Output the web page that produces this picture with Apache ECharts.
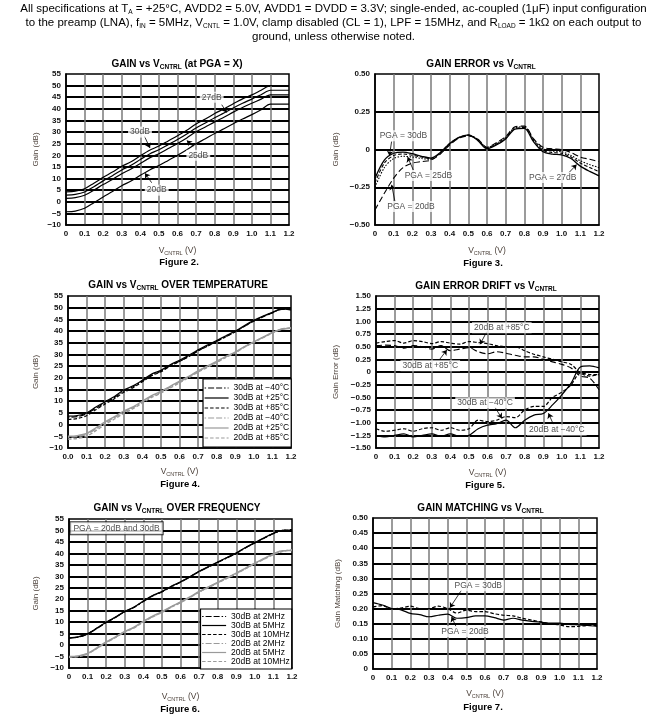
<!DOCTYPE html>
<html><head><meta charset="utf-8">
<script src="https://cdn.jsdelivr.net/npm/echarts@6/dist/echarts.min.js"></script>
<style>html,body{margin:0;padding:0;background:#fff}#c{width:667px;height:721px}</style>
</head><body><div id="c"></div>
<script>
// ---------- DATA ----------
const vcntrl = [0,0.05,0.1,0.15,0.2,0.25,0.3,0.35,0.4,0.45,0.5,0.55,0.6,0.65,0.7,0.75,0.8,0.85,0.9,0.95,1.0,1.05,1.1,1.15,1.2];

// Figure 2: Gain vs VCNTRL (at PGA = X)
const fig2_pga30 = [4.3,4.6,5.6,8.0,10.5,12.8,15.3,17.2,19.8,22.2,24.0,26.2,28.4,30.8,33.5,35.6,38.0,40.0,42.2,44.3,46.0,48.0,50.0,50.0,50.0];
const fig2_pga27 = [2.9,3.2,4.2,6.5,9.0,11.2,13.7,15.7,18.2,20.6,22.4,24.6,26.8,29.2,31.8,33.9,36.2,38.2,40.4,42.4,44.2,46.1,48.0,48.0,48.0];
const fig2_pga25 = [1.5,1.8,2.8,5.0,7.4,9.6,12.1,14.1,16.5,18.9,20.7,22.9,25.1,27.5,30.1,32.2,34.4,36.4,38.6,40.6,42.4,44.2,46.0,46.0,46.0];
const fig2_pga20 = [-4.3,-4.0,-2.8,-0.4,2.1,4.4,6.9,8.9,11.4,13.7,15.6,17.8,20.0,22.4,25.0,27.1,29.4,31.4,33.6,35.6,37.5,39.6,42.0,42.0,42.0];
const fig2_labels = ['27dB','30dB','25dB','20dB'];
const fig2_labelAt = [[0.784,45],[0.398,30],[0.712,20],[0.488,5]];
const fig2_arrowFrom = [[0.838,41.8],[0.421,28.4],[0.685,23.8],[0.461,8.2]];
const fig2_arrowTo = [[0.865,38.4],[0.452,23.1],[0.650,26.4],[0.425,12.3]];

// Figure 3: Gain error vs VCNTRL
const fig3_pga30 = [-0.19,-0.07,-0.025,-0.017,-0.028,-0.045,-0.057,-0.02,0.04,0.08,0.097,0.06,0.005,0.03,0.07,0.135,0.14,0.05,-0.015,-0.03,-0.035,-0.06,-0.11,-0.145,-0.175];
const fig3_pga27 = [-0.22,-0.09,-0.04,-0.03,-0.038,-0.05,-0.06,-0.02,0.04,0.08,0.095,0.065,0.01,0.035,0.075,0.14,0.145,0.06,-0.005,-0.02,-0.025,-0.05,-0.09,-0.12,-0.146];
const fig3_pga25 = [-0.25,-0.12,-0.06,-0.045,-0.05,-0.06,-0.065,-0.025,0.035,0.078,0.093,0.068,0.012,0.04,0.08,0.145,0.15,0.065,0.005,-0.01,-0.015,-0.04,-0.075,-0.10,-0.12];
const fig3_pga20 = [-0.40,-0.29,-0.19,-0.12,-0.09,-0.08,-0.07,-0.03,0.03,0.075,0.09,0.07,0.015,0.045,0.085,0.15,0.155,0.07,0.015,0.005,0.0,-0.02,-0.05,-0.065,-0.08];
const fig3_labels = ['PGA = 30dB','PGA = 25dB','PGA = 20dB','PGA = 27dB'];
const fig3_labelAt = [[0.152,0.091],[0.286,-0.172],[0.193,-0.378],[0.952,-0.186]];
const fig3_arrowFrom = [[0.089,0.053],[0.205,-0.135],[0.107,-0.345],[1.036,-0.157]];
const fig3_arrowTo = [[0.077,-0.042],[0.175,-0.05],[0.089,-0.234],[1.08,-0.10]];

// Figure 4: Gain vs VCNTRL over temperature
const fig4_30_m40 = [3.2,3.4,4.6,7.0,9.4,11.6,14.3,16.2,18.6,21.2,22.8,25.2,27.1,29.2,31.6,33.6,35.6,37.6,39.7,42.1,44.3,46.1,47.8,49.3,49.2];
const fig4_30_p25 = [3.6,3.9,5.0,7.5,9.8,12.0,14.8,16.6,19.0,21.6,23.2,25.6,27.5,29.6,32.0,34.0,36.0,38.0,40.0,42.4,44.6,46.4,48.0,49.5,49.1];
const fig4_30_p85 = [2.2,2.6,3.8,6.4,8.8,11.1,13.8,15.8,18.3,20.9,22.6,25.0,27.0,29.1,31.5,33.5,35.6,37.6,39.7,42.1,44.3,46.2,47.9,49.4,49.3];
const fig4_20_m40 = [-5.4,-5.1,-4.2,-1.8,0.8,3.0,5.4,7.3,9.7,12.1,13.9,16.1,18.3,20.4,22.8,24.8,26.8,29.0,30.9,33.3,35.3,37.3,39.3,40.9,41.3];
const fig4_20_p25 = [-5.0,-4.7,-3.8,-1.4,1.2,3.4,5.8,7.6,10.0,12.4,14.2,16.4,18.6,20.6,23.0,25.0,27.0,29.2,31.0,33.4,35.4,37.4,39.4,40.8,41.2];
const fig4_20_p85 = [-6.2,-5.9,-5.0,-2.6,0.1,2.4,4.8,6.8,9.2,11.6,13.5,15.7,17.9,20.1,22.5,24.5,26.6,28.8,30.7,33.1,35.2,37.2,39.2,40.8,41.3];
const fig4_names = ['30dB at \u221240\u00B0C','30dB at +25\u00B0C','30dB at +85\u00B0C','20dB at \u221240\u00B0C','20dB at +25\u00B0C','20dB at +85\u00B0C'];

// Figure 5: Gain error drift vs VCNTRL
const fig5_20_p85 = [0.57,0.60,0.62,0.57,0.62,0.60,0.56,0.60,0.57,0.55,0.60,0.58,0.56,0.52,0.50,0.50,0.42,0.35,0.30,0.25,0.20,0.15,-0.02,-0.08,-0.05];
const fig5_30_p85 = [0.52,0.53,0.52,0.47,0.52,0.50,0.45,0.52,0.42,0.45,0.48,0.40,0.36,0.40,0.37,0.33,0.30,0.30,0.25,0.20,0.15,0.08,-0.08,-0.12,-0.35];
const fig5_30_m40 = [-1.12,-1.17,-1.15,-1.12,-1.17,-1.12,-1.10,-1.15,-1.10,-1.15,-1.12,-0.95,-0.98,-0.95,-0.88,-0.90,-0.75,-0.68,-0.68,-0.50,-0.40,-0.25,-0.02,-0.05,-0.05];
const fig5_20_m40 = [-1.25,-1.28,-1.25,-1.22,-1.28,-1.25,-1.22,-1.27,-1.22,-1.27,-1.25,-1.12,-1.05,-1.02,-0.95,-1.10,-0.95,-0.85,-0.82,-0.65,-0.45,-0.22,0.10,0.12,0.08];
const fig5_labels = ['20dB at +85\u00B0C','30dB at +85\u00B0C','30dB at \u221240\u00B0C','20dB at \u221240\u00B0C'];
const fig5_labelAt = [[0.677,0.875],[0.292,0.125],[0.587,-0.605],[0.973,-1.145]];
const fig5_arrowFrom = [[0.596,0.795],[0.336,0.217],[0.641,-0.70],[0.954,-1.03]];
const fig5_arrowTo = [[0.56,0.547],[0.381,0.434],[0.677,-0.915],[0.928,-0.815]];

// Figure 6: Gain vs VCNTRL over frequency
const fig6_30_2 = [3.0,3.4,4.8,7.2,9.8,12.0,14.5,16.4,19.0,21.4,23.2,25.4,27.4,29.6,32.0,34.0,36.0,38.0,40.0,42.4,44.5,46.6,48.6,50.0,50.2];
const fig6_30_5 = [3.2,3.6,5.0,7.4,10.0,12.2,14.7,16.6,19.2,21.6,23.4,25.6,27.6,29.8,32.2,34.2,36.2,38.2,40.2,42.6,44.7,46.8,48.8,50.1,49.8];
const fig6_30_10 = [3.0,3.5,4.9,7.3,9.9,12.1,14.6,16.5,19.1,21.5,23.3,25.5,27.5,29.7,32.1,34.1,36.1,38.1,40.1,42.5,44.6,46.7,48.7,50.0,50.4];
const fig6_20_2 = [-5.2,-4.9,-3.8,-1.4,1.2,3.4,5.8,7.6,10.2,12.4,14.4,16.6,18.6,20.8,23.2,25.2,27.2,29.2,31.2,33.4,35.6,37.6,39.6,41.0,41.4];
const fig6_20_5 = [-5.0,-4.7,-3.6,-1.2,1.4,3.6,6.0,7.8,10.4,12.6,14.6,16.8,18.8,21.0,23.4,25.4,27.4,29.4,31.4,33.6,35.8,37.8,39.8,41.2,41.2];
const fig6_20_10 = [-5.3,-5.0,-3.9,-1.5,1.1,3.3,5.7,7.5,10.1,12.3,14.3,16.5,18.5,20.7,23.1,25.1,27.1,29.1,31.1,33.3,35.5,37.5,39.5,40.9,41.6];
const fig6_names = ['30dB at 2MHz','30dB at 5MHz','30dB at 10MHz','20dB at 2MHz','20dB at 5MHz','20dB at 10MHz'];
const fig6_note = 'PGA = 20dB and 30dB';
const fig6_noteAt = [0.005, 51];

// Figure 7: Gain matching vs VCNTRL
const fig7_pga20 = [0.220,0.212,0.200,0.196,0.184,0.180,0.173,0.178,0.182,0.168,0.170,0.176,0.176,0.170,0.162,0.168,0.162,0.158,0.155,0.152,0.152,0.148,0.146,0.144,0.141];
const fig7_pga30 = [0.205,0.210,0.200,0.202,0.208,0.200,0.200,0.208,0.200,0.185,0.195,0.190,0.190,0.183,0.178,0.176,0.168,0.162,0.156,0.150,0.146,0.140,0.141,0.144,0.144];
const fig7_labels = ['PGA = 30dB','PGA = 20dB'];
const fig7_labelAt = [[0.564,0.276],[0.493,0.124]];
const fig7_arrowFrom = [[0.475,0.262],[0.445,0.14]];
const fig7_arrowTo = [[0.412,0.203],[0.421,0.173]];

// Text
const headerLines = [
  'All specifications at T{s|A} = +25\u00B0C, AVDD2 = 5.0V, AVDD1 = DVDD = 3.3V; single-ended, ac-coupled (1\u03BCF) input configuration',
  'to the preamp (LNA), f{s|IN} = 5MHz, V{s|CNTL} = 1.0V, clamp disabled (CL = 1), LPF = 15MHz, and R{s|LOAD} = 1k\u03A9 on each output to',
  'ground, unless otherwise noted.'
];
const chartTitles = ['GAIN vs V{s|CNTRL} (at PGA = X)','GAIN ERROR vs V{s|CNTRL}','GAIN vs V{s|CNTRL} OVER TEMPERATURE','GAIN ERROR DRIFT vs V{s|CNTRL}','GAIN vs V{s|CNTRL} OVER FREQUENCY','GAIN MATCHING vs V{s|CNTRL}'];
const figureLabels = ['Figure 2.','Figure 3.','Figure 4.','Figure 5.','Figure 6.','Figure 7.'];
const yNames = ['Gain (dB)','Gain (dB)','Gain (dB)','Gain Error (dB)','Gain (dB)','Gain Matching (dB)'];

// ---------- LAYOUT / STYLE ----------
const FONT = '"Liberation Sans", Arial, Helvetica, sans-serif';
const NAMECOL = '#4a3f38';
const GRAY = '#9a9a9a';
const gridBoxes = [
  {left:66, top:74, width:223, height:151},
  {left:375, top:74, width:224, height:151},
  {left:68, top:296, width:223, height:152},
  {left:376, top:296, width:223, height:152},
  {left:69, top:519, width:223, height:149},
  {left:373, top:518, width:224, height:151}
];
const titlePos = [[177,57.5],[481,57.5],[178,279],[486,280],[177,502],[480.5,502]];
const figPos = [[179,256],[483,257],[180,478],[485,479.5],[180,703.5],[483,701.5]];
const xNameGap = [20,20,18.5,19.5,23.5,19];
const yNameGap = [26,35,28,36,29,31.5];

const sub = (fs, col, w) => ({s:{fontSize:fs, color:col, fontWeight:w||'normal', verticalAlign:'bottom', fontFamily:FONT}});

function minus(s){ return s.replace('-', '\u2212'); }
const yFmtInt = v => minus(String(Math.round(v)));
const yFmt2 = v => Math.abs(v) < 1e-9 ? '0' : minus(v.toFixed(2));
const yCfg = [
  {min:-10, max:55, interval:5, fmt:yFmtInt},
  {min:-0.5, max:0.5, interval:0.25, fmt:yFmt2},
  {min:-10, max:55, interval:5, fmt:yFmtInt},
  {min:-1.5, max:1.5, interval:0.25, fmt:yFmt2},
  {min:-10, max:55, interval:5, fmt:yFmtInt},
  {min:0, max:0.5, interval:0.05, fmt:yFmt2}
];
const xZero = ['0','0','0.0','0','0','0'];

const grids = gridBoxes.map(g => Object.assign({show:true, borderColor:'#000', borderWidth:1.5, backgroundColor:'#fff', containLabel:false}, g));

const TICKFONT = {fontSize:8, fontWeight:'bold', color:'#111', fontFamily:FONT};

const xAxes = gridBoxes.map((g,i) => ({
  gridIndex:i, type:'value', min:0, max:1.2, interval:0.1,
  axisLine:{show:true, onZero:false, lineStyle:{color:'#000', width:1.5}},
  axisTick:{show:false},
  splitLine:{show:true, showMinLine:false, showMaxLine:false, lineStyle:{color:'#7a7a7a', width:1.5}},
  axisLabel:Object.assign({margin:5, hideOverlap:false,
    formatter: v => Math.abs(v) < 1e-9 ? xZero[i] : v.toFixed(1)}, TICKFONT),
  name:'V{s|CNTRL} (V)', nameLocation:'middle', nameGap:xNameGap[i],
  nameTextStyle:{fontSize:8.5, color:NAMECOL, lineHeight:11, fontFamily:FONT, rich:sub(5.5, NAMECOL)}
}));

const yAxes = gridBoxes.map((g,i) => ({
  gridIndex:i, type:'value', min:yCfg[i].min, max:yCfg[i].max, interval:yCfg[i].interval,
  axisLine:{show:true, onZero:false, lineStyle:{color:'#000', width:1.5}},
  axisTick:{show:false},
  splitLine:{show:true, showMinLine:false, showMaxLine:false, lineStyle:{color:'#000', width:1.8}},
  axisLabel:Object.assign({margin:5, hideOverlap:false, formatter:yCfg[i].fmt}, TICKFONT),
  name:yNames[i], nameLocation:'middle', nameGap:yNameGap[i], nameRotate:90,
  nameTextStyle:{fontSize:8, color:NAMECOL, fontFamily:FONT}
}));

function pairs(ys){ return vcntrl.map((x,k) => [x, ys[k]]); }
function line(name, gi, ys, color, type, width){
  return {type:'line', name, xAxisIndex:gi, yAxisIndex:gi, data:pairs(ys), symbol:'none', symbolSize:0,
    showSymbol:false, showAllSymbol:false, legendHoverLink:false, emphasis:{disabled:true},
    smooth:0.3, silent:true, z:3, lineStyle:{color, width:width||1.2, type:type||'solid'}, itemStyle:{color, opacity:0}};
}
function annot(gi, labels, at, from, to){
  return {type:'scatter', xAxisIndex:gi, yAxisIndex:gi, silent:true, z:10, symbolSize:1,
    itemStyle:{color:'rgba(0,0,0,0)'},
    label:{show:true, position:'inside', formatter:'{b}', color:'#222', fontSize:8.5, fontFamily:FONT, backgroundColor:'#fff', padding:[1,2]},
    data: labels.map((t,k) => ({name:t, value:at[k]})),
    markLine:{silent:true, animation:false, symbol:['none','arrow'], symbolSize:5, precision:4,
      lineStyle:{color:'#000', width:0.8, type:'solid'}, label:{show:false}, emphasis:{disabled:true},
      data: from.map((f,k) => [{coord:f},{coord:to[k]}])}
  };
}
const DASH = [3.5,2];
const LDASH = [6,3];
const DOT = [1.5,1.5];
const DASHDOT = [1.5,2,6,2,6,2];

const series = [
  // Fig 2
  line('F2 30dB',0,fig2_pga30,'#000'),
  line('F2 27dB',0,fig2_pga27,'#000'),
  line('F2 25dB',0,fig2_pga25,'#000'),
  line('F2 20dB',0,fig2_pga20,'#000'),
  annot(0, fig2_labels, fig2_labelAt, fig2_arrowFrom, fig2_arrowTo),
  // Fig 3
  line('F3 30dB',1,fig3_pga30,'#000','solid',1.3),
  line('F3 27dB',1,fig3_pga27,'#000',DASH,1.1),
  line('F3 25dB',1,fig3_pga25,'#000',DOT,1.1),
  line('F3 20dB',1,fig3_pga20,'#000',LDASH,1.1),
  annot(1, fig3_labels, fig3_labelAt, fig3_arrowFrom, fig3_arrowTo),
  // Fig 4
  line(fig4_names[0],2,fig4_30_m40,'#000',DASHDOT),
  line(fig4_names[1],2,fig4_30_p25,'#000','solid'),
  line(fig4_names[2],2,fig4_30_p85,'#000',DASH),
  line(fig4_names[3],2,fig4_20_m40,GRAY,DASHDOT,1.4),
  line(fig4_names[4],2,fig4_20_p25,GRAY,'solid',1.4),
  line(fig4_names[5],2,fig4_20_p85,GRAY,DASH,1.4),
  // Fig 5
  line('F5 20dB +85',3,fig5_20_p85,'#000',DASH),
  line('F5 30dB +85',3,fig5_30_p85,'#000',LDASH),
  line('F5 30dB -40',3,fig5_30_m40,'#000',DASH),
  line('F5 20dB -40',3,fig5_20_m40,'#000','solid'),
  annot(3, fig5_labels, fig5_labelAt, fig5_arrowFrom, fig5_arrowTo),
  // Fig 6
  line(fig6_names[0],4,fig6_30_2,'#000',DASHDOT),
  line(fig6_names[1],4,fig6_30_5,'#000','solid'),
  line(fig6_names[2],4,fig6_30_10,'#000',DASH),
  line(fig6_names[3],4,fig6_20_2,GRAY,DASHDOT,1.4),
  line(fig6_names[4],4,fig6_20_5,GRAY,'solid',1.4),
  line(fig6_names[5],4,fig6_20_10,GRAY,DASH,1.4),
  {type:'scatter', xAxisIndex:4, yAxisIndex:4, silent:true, z:10, symbolSize:1, itemStyle:{color:'rgba(0,0,0,0)'},
    label:{show:true, position:'right', distance:0, formatter:'{b}', color:'#222', fontSize:8.5, fontFamily:FONT,
      backgroundColor:'#fff', borderColor:'#000', borderWidth:1, padding:[2,3,1,3]},
    data:[{name:fig6_note, value:fig6_noteAt}]},
  // Fig 7
  line('F7 20dB',5,fig7_pga20,'#000','solid'),
  line('F7 30dB',5,fig7_pga30,'#000',DASH),
  annot(5, fig7_labels, fig7_labelAt, fig7_arrowFrom, fig7_arrowTo)
];

const legendBase = {orient:'vertical', padding:[4,2,4,1], itemWidth:24, itemHeight:8, itemGap:0,
  backgroundColor:'#fff', borderColor:'#000', borderWidth:1.2, borderRadius:0, selectedMode:false, z:6,
  itemStyle:{opacity:0, borderWidth:0},
  textStyle:{fontSize:8.5, color:'#000', lineHeight:10, fontFamily:FONT}, lineStyle:{width:1.2, opacity:1}};
const legends = [
  Object.assign({}, legendBase, {data:fig4_names, left:203, top:379}),
  Object.assign({}, legendBase, {data:fig6_names, left:200.5, top:609, padding:[3,2,3,1], textStyle:{fontSize:8.5, color:'#000', lineHeight:8.7, fontFamily:FONT}})
];

const titles = [];
headerLines.forEach((t,k) => titles.push({text:t, left:'center', top:1.5 + k*14, padding:0,
  textStyle:{fontSize:11.5, fontWeight:'normal', color:'#000', lineHeight:14, fontFamily:FONT, rich:sub(6.5,'#000')}}));
chartTitles.forEach((t,k) => titles.push({text:t, left:titlePos[k][0], top:titlePos[k][1], textAlign:'center', padding:0,
  textStyle:{fontSize:10, fontWeight:'bold', color:'#000', lineHeight:13, fontFamily:FONT, rich:sub(6.5,'#000','bold')}}));
figureLabels.forEach((t,k) => titles.push({text:t, left:figPos[k][0], top:figPos[k][1], textAlign:'center', padding:0,
  textStyle:{fontSize:9.5, fontWeight:'bold', color:'#000', lineHeight:12, fontFamily:FONT}}));

const chart = echarts.init(document.getElementById('c'), null, {renderer:'canvas'});
chart.setOption({
  animation:false,
  backgroundColor:'#fff',
  textStyle:{fontFamily:FONT},
  title:titles,
  legend:legends,
  grid:grids,
  xAxis:xAxes,
  yAxis:yAxes,
  tooltip:{show:false},
  series
});
</script></body></html>
